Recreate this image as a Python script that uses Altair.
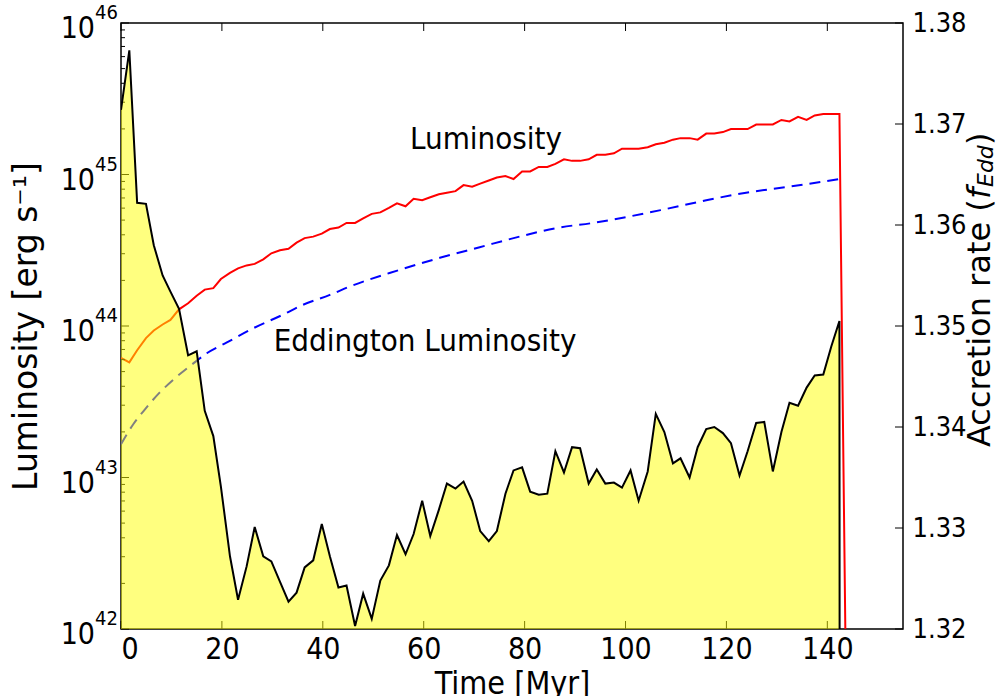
import altair as alt
import pandas as pd

# Simulation output, sampled every ~1.65 Myr
time_myr = [0.0, 1.65, 3.2, 4.95, 6.5, 8.25, 9.8, 11.5, 13.3, 15.0, 16.6, 18.3, 19.8, 21.6, 23.2,
            24.9, 26.5, 28.2, 29.8, 31.5, 33.2, 34.8, 36.4, 38.1, 39.8, 41.4, 43.1, 44.7, 46.4,
            48.0, 49.7, 51.4, 53.1, 54.7, 56.4, 58.0, 59.7, 61.3, 63.0, 64.6, 66.3, 67.9, 69.6,
            71.2, 72.9, 74.5, 76.2, 77.8, 79.5, 81.1, 82.8, 84.5, 86.1, 87.8, 89.4, 91.0, 92.7,
            94.3, 96.0, 97.7, 99.3, 101.0, 102.6, 104.4, 106.0, 107.7, 109.4, 110.9, 112.7,
            114.3, 116.0, 117.6, 119.3, 120.9, 122.6, 124.2, 125.9, 127.5, 129.2, 130.9, 132.5,
            134.2, 135.9, 137.5, 139.2, 140.8, 142.4, 144.05]

# Accretion rate in units of the Eddington rate
accretion_fedd = [1.3714, 1.3773, 1.3622, 1.3621, 1.3580, 1.3550, 1.3534, 1.3517, 1.3471, 1.3475,
                  1.3416, 1.3391, 1.3341, 1.3272, 1.3229, 1.3262, 1.3301, 1.3272, 1.3267, 1.3247,
                  1.3227, 1.3236, 1.3261, 1.3268, 1.3304, 1.3272, 1.3241, 1.3243, 1.3203, 1.3235,
                  1.3210, 1.3248, 1.3263, 1.3293, 1.3274, 1.3294, 1.3327, 1.3292, 1.3318, 1.3344,
                  1.3339, 1.3346, 1.3327, 1.3297, 1.3287, 1.3297, 1.3334, 1.3357, 1.3360, 1.3336,
                  1.3333, 1.3334, 1.3376, 1.3355, 1.3380, 1.3379, 1.3344, 1.3358, 1.3344, 1.3345,
                  1.3340, 1.3357, 1.3327, 1.3356, 1.3413, 1.3395, 1.3364, 1.3369, 1.3350, 1.3380,
                  1.3398, 1.3400, 1.3394, 1.3384, 1.3352, 1.3376, 1.3404, 1.3405, 1.3356, 1.3395,
                  1.3424, 1.3421, 1.3439, 1.3451, 1.3452, 1.3480, 1.3505, 0.0]

# log10 of the luminosity [erg/s]
lum_log10 = [43.79, 43.76, 43.84, 43.92, 43.97, 44.01, 44.04, 44.11, 44.15, 44.20, 44.24, 44.25,
             44.31, 44.35, 44.38, 44.40, 44.41, 44.44, 44.48, 44.50, 44.51, 44.55, 44.58, 44.59,
             44.61, 44.64, 44.65, 44.68, 44.68, 44.71, 44.74, 44.75, 44.78, 44.81, 44.79, 44.84,
             44.83, 44.85, 44.87, 44.88, 44.89, 44.93, 44.92, 44.94, 44.96, 44.98, 44.99, 44.97,
             45.02, 45.02, 45.05, 45.05, 45.07, 45.10, 45.09, 45.09, 45.10, 45.13, 45.13, 45.14,
             45.17, 45.17, 45.17, 45.18, 45.20, 45.21, 45.23, 45.24, 45.24, 45.23, 45.27, 45.27,
             45.28, 45.30, 45.30, 45.30, 45.33, 45.33, 45.33, 45.36, 45.35, 45.38, 45.36, 45.39,
             45.40, 45.40, 45.40, 40.6]

# Eddington luminosity of the growing black hole
edd_time_myr = [0.0, 2.4, 4.75, 7.5, 10.7, 15.0, 17.0, 20.9, 26.2, 31.8, 36.1, 41.4, 45.3, 55.2,
                63.2, 71.1, 79.0, 86.9, 93.5, 107.7, 116.0, 123.9, 132.5, 142.4]
edd_log10 = [43.22, 43.35, 43.45, 43.555, 43.655, 43.77, 43.82, 43.89, 43.985, 44.07, 44.14,
             44.205, 44.26, 44.37, 44.45, 44.52, 44.59, 44.65, 44.68, 44.77, 44.83, 44.88,
             44.92, 44.97]

# Tick positions
x_ticks = [0, 20, 40, 60, 80, 100, 120, 140]
lum_exponents = [42, 43, 44, 45, 46]
lum_minor = [k * 10.0 ** e for e in [42, 43, 44, 45] for k in range(2, 10)]
rate_ticks = [1.32, 1.33, 1.34, 1.35, 1.36, 1.37, 1.38]

W, H = 782, 606
SANS = "DejaVu Sans"
COND = "DejaVu Sans Condensed, DejaVu Sans"

main = pd.DataFrame({
    "t": time_myr,
    "rate": accretion_fedd,
    "lum": [10.0 ** v for v in lum_log10],
})
edd = pd.DataFrame({"t": edd_time_myr, "lum": [10.0 ** v for v in edd_log10]})

x_scale = alt.Scale(domain=[0, 155], nice=False, zero=False)
lum_scale = alt.Scale(type="log", domain=[1e42, 1e46], nice=False)
rate_scale = alt.Scale(domain=[1.32, 1.38], nice=False, zero=False)

x_axis = alt.Axis(title="Time [Myr]", values=x_ticks, ticks=False, domain=False, grid=False,
                  labelFont=COND, labelFontSize=30, labelPadding=5, labelColor="black",
                  titleFont=COND, titleFontSize=32, titlePadding=4, titleColor="black",
                  titleFontWeight="normal")
left_axis = alt.Axis(title="Luminosity [erg s⁻¹]", labels=False, ticks=False, domain=False,
                     grid=False, titleFont=SANS, titleFontSize=33, titleFontWeight="normal",
                     titleColor="black", titleX=-95, titleY=H / 2, titleAngle=270,
                     titleAlign="center", titleBaseline="middle")
right_axis = alt.Axis(title="", orient="right", values=rate_ticks, format=".2f", ticks=False,
                      domain=False, grid=False, labelFont=COND, labelFontSize=27,
                      labelPadding=9, labelColor="black")


def xenc(field="t"):
    return alt.X(f"{field}:Q", scale=x_scale, axis=x_axis)


def lum_enc(field="lum"):
    return alt.Y(f"{field}:Q", scale=lum_scale, axis=left_axis)


def rate_enc(field="rate"):
    return alt.Y(f"{field}:Q", scale=rate_scale, axis=right_axis)


# --- luminosity side (log axis) ---
lum_line = alt.Chart(main).mark_line(color="#ff0000", strokeWidth=2, clip=True).encode(
    x=xenc(), y=lum_enc())

edd_line = alt.Chart(edd).mark_line(color="#0000ff", strokeWidth=2, strokeDash=[11, 7],
                                    interpolate="monotone", clip=True).encode(
    x=xenc(), y=lum_enc())

xt = pd.DataFrame({"t": x_ticks})
xt_bottom = alt.Chart(xt).mark_rule(color="black", strokeWidth=1).encode(
    x=xenc(), y=alt.value(H), y2=alt.value(H - 8))
xt_top = alt.Chart(xt).mark_rule(color="black", strokeWidth=1).encode(
    x=xenc(), y=alt.value(0), y2=alt.value(8))

major = pd.DataFrame({"lum": [10.0 ** e for e in lum_exponents],
                      "exp": [str(e) for e in lum_exponents]})
minor = pd.DataFrame({"lum": lum_minor})
lt_major = alt.Chart(major).mark_rule(color="black", strokeWidth=1).encode(
    x=alt.value(0), x2=alt.value(8), y=lum_enc())
lt_minor = alt.Chart(minor).mark_rule(color="black", strokeWidth=1).encode(
    x=alt.value(0), x2=alt.value(4), y=lum_enc())

label_base = alt.Chart(major).mark_text(
    text="10", font=COND, fontSize=30, align="right", baseline="middle", dy=6,
    color="black").encode(x=alt.value(-26), y=lum_enc())
label_exp = alt.Chart(major).mark_text(
    font=COND, fontSize=20, align="left", baseline="middle", dy=-10,
    color="black").encode(x=alt.value(-26), y=lum_enc(), text="exp:N")

one = pd.DataFrame({"k": [0]})
ann_lum = alt.Chart(one).mark_text(text="Luminosity", font=COND, fontSize=31, align="center",
                                   baseline="middle", color="black").encode(
    x=alt.value(365), y=alt.value(117))
ann_edd = alt.Chart(one).mark_text(text="Eddington Luminosity", font=COND, fontSize=31,
                                   align="center", baseline="middle", color="black").encode(
    x=alt.value(304), y=alt.value(319))

left = alt.layer(lum_line, edd_line, xt_bottom, xt_top, lt_major, lt_minor,
                 label_base, label_exp, ann_lum, ann_edd)

# --- accretion-rate side (linear axis) ---
rate_fill = alt.Chart(main).mark_area(color="#ffff00", opacity=0.5, clip=True).encode(
    x=xenc(), y=rate_enc(), y2=alt.datum(1.32))
rate_line = alt.Chart(main).mark_line(color="black", strokeWidth=2, clip=True).encode(
    x=xenc(), y=rate_enc())

rt = pd.DataFrame({"rate": rate_ticks})
rt_marks = alt.Chart(rt).mark_rule(color="black", strokeWidth=1).encode(
    x=alt.value(W), x2=alt.value(W - 8), y=rate_enc())

# Right-hand axis title, built from pieces so the subscript can be set smaller
TX = W + 77
title_main = alt.Chart(one).mark_text(text="Accretion rate (", font=SANS, fontSize=32,
                                      angle=270, align="left", baseline="middle",
                                      color="black").encode(x=alt.value(TX), y=alt.value(424))
title_f = alt.Chart(one).mark_text(text="f", font=SANS, fontSize=32, fontStyle="italic",
                                   angle=270, align="left", baseline="middle",
                                   color="black").encode(x=alt.value(TX), y=alt.value(176))
title_sub = alt.Chart(one).mark_text(text="Edd", font=SANS, fontSize=22, fontStyle="italic",
                                     angle=270, align="left", baseline="middle",
                                     color="black").encode(x=alt.value(TX + 6), y=alt.value(164))
title_close = alt.Chart(one).mark_text(text=")", font=SANS, fontSize=32, angle=270,
                                       align="left", baseline="middle",
                                       color="black").encode(x=alt.value(TX), y=alt.value(122))

right = alt.layer(rate_fill, rate_line, rt_marks, title_main, title_f, title_sub, title_close)

chart = alt.layer(left, right).resolve_scale(y="independent").properties(
    width=W, height=H,
    autosize=alt.AutoSizeParams(type="none"),
    padding={"left": 121, "top": 23, "right": 997 - 121 - W, "bottom": 696 - 23 - H},
).configure_view(stroke="black", strokeWidth=1.5)

chart.save("out.html", embed_options={"renderer": "svg", "actions": False})
